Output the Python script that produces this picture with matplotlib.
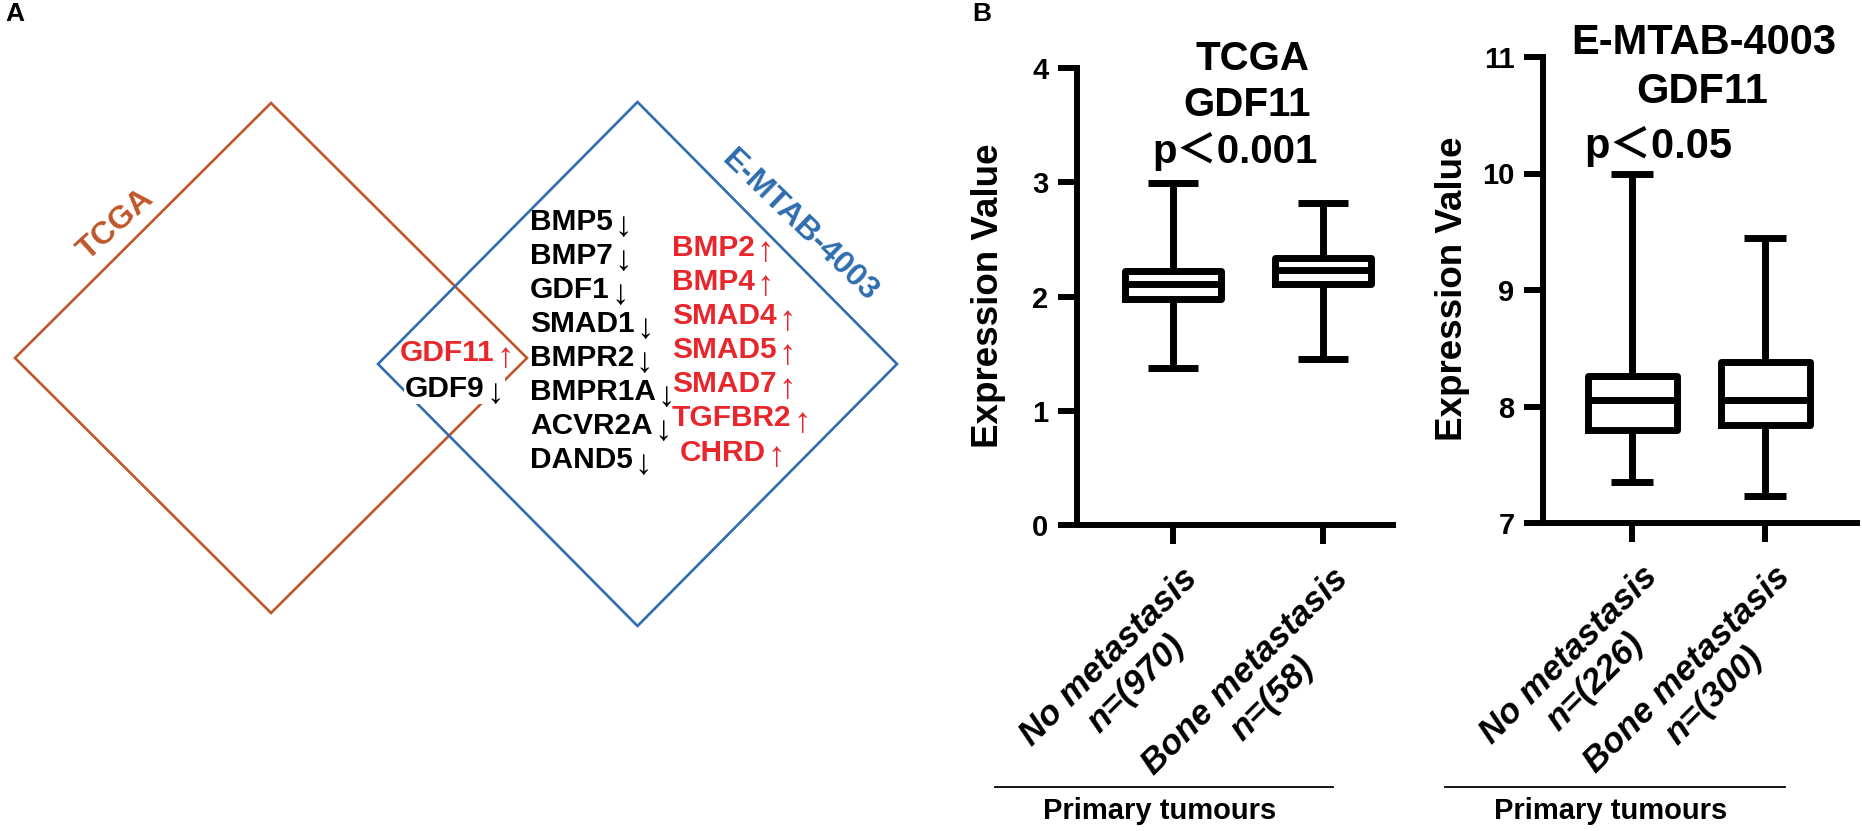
import matplotlib
matplotlib.use('Agg')
import matplotlib.pyplot as plt
from matplotlib.patches import Polygon
from matplotlib.transforms import ScaledTranslation

plt.rcParams['font.family'] = ['Liberation Sans', 'DejaVu Sans']

# ---------------- data ----------------
tcga_groups = ['No metastasis\nn=(970)', 'Bone metastasis\nn=(58)']
emtab_groups = ['No metastasis\nn=(226)', 'Bone metastasis\nn=(300)']

tcga_whislo = [1.37, 1.45]
tcga_q1 = [1.98, 2.11]
tcga_med = [2.11, 2.23]
tcga_q3 = [2.22, 2.34]
tcga_whishi = [2.99, 2.82]
tcga_yticks = [0, 1, 2, 3, 4]

emtab_whislo = [7.35, 7.23]
emtab_q1 = [7.80, 7.84]
emtab_med = [8.06, 8.06]
emtab_q3 = [8.26, 8.38]
emtab_whishi = [10.0, 9.45]
emtab_yticks = [7, 8, 9, 10, 11]

venn_sets = ['TCGA', 'E-MTAB-4003']
overlap_genes = ['GDF11', 'GDF9']
overlap_up = [True, False]
emtab_down_genes = ['BMP5', 'BMP7', 'GDF1', 'SMAD1', 'BMPR2', 'BMPR1A', 'ACVR2A', 'DAND5']
emtab_up_genes = ['BMP2', 'BMP4', 'SMAD4', 'SMAD5', 'SMAD7', 'TGFBR2', 'CHRD']

# ---------------- styling ----------------
W, H = 1862, 831
BROWN = '#C0562A'
BLUE = '#2F6DB0'
RED = '#E8262C'
LW_BOX = 5.0
LW_AX = 4.3

fig = plt.figure(figsize=(W / 100, H / 100), dpi=100)
fig.patch.set_facecolor('white')

# full-figure overlay axes in pixel units (for Venn panel and annotations)
axv = fig.add_axes([0, 0, 1, 1], zorder=0)
axv.set_xlim(0, W)
axv.set_ylim(H, 0)
axv.axis('off')

# ---------------- Panel A: Venn (diamonds) ----------------
diamond_cx = [271, 637.5]
diamond_cy = [358, 364]
diamond_hw = [256, 259.5]
diamond_hh = [255, 262]
diamond_col = [BROWN, BLUE]
for cx, cy, hw, hh, c in zip(diamond_cx, diamond_cy, diamond_hw, diamond_hh, diamond_col):
    axv.add_patch(Polygon([(cx, cy - hh), (cx + hw, cy), (cx, cy + hh), (cx - hw, cy)],
                          closed=True, fill=False, edgecolor=c, lw=1.9, zorder=1))

axv.text(116, 225, venn_sets[0], color=BROWN, fontsize=23, fontweight='bold',
         rotation=42, ha='center', va='center', rotation_mode='anchor', zorder=3)
axv.text(800, 226, venn_sets[1], color=BLUE, fontsize=23, fontweight='bold',
         rotation=-44, ha='center', va='center', rotation_mode='anchor', zorder=3)


def gene(x, y, name, up, color, box=False):
    bb = dict(facecolor='white', edgecolor='none', pad=1) if box else None
    t = axv.text(x, y, name, color=color, fontsize=21.5, fontweight='bold',
                 ha='left', va='center', zorder=4, bbox=bb)
    axv.annotate('↑' if up else '↓', xy=(1, 0.5), xycoords=t, xytext=(1, -3),
                 textcoords='offset points', ha='left', va='center', fontsize=25,
                 color=color, fontweight='normal', zorder=4, bbox=bb)


overlap_xy = [(400, 353), (405, 389)]
for (x, y), g, up in zip(overlap_xy, overlap_genes, overlap_up):
    gene(x, y, g, up, RED if up else 'black', box=not up)

for i, g in enumerate(emtab_down_genes):
    gene(530, 222.5 + 34 * i, g, False, 'black')
for i, g in enumerate(emtab_up_genes):
    gene(672 + (8 if g == 'CHRD' else 0), 247.5 + 34.2 * i, g, True, RED)

axv.text(15, 14, 'A', fontsize=19, fontweight='bold', ha='center', va='center')
axv.text(982, 14, 'B', fontsize=19, fontweight='bold', ha='center', va='center')


# ---------------- Panel B: box plots ----------------
def box_panel(rect, ylim, yticks, groups, whislo, q1, med, q3, whishi, xlim, width, capw):
    ax = fig.add_axes(rect, zorder=2)
    ax.patch.set_alpha(0)
    stats = [dict(med=m, q1=a, q3=b, whislo=lo, whishi=hi, fliers=[])
             for lo, a, m, b, hi in zip(whislo, q1, med, q3, whishi)]
    kw = dict(color='black', lw=LW_BOX, solid_capstyle='butt')
    ax.bxp(stats, positions=[0, 1], widths=width, capwidths=capw, showfliers=False,
           boxprops=dict(color='black', lw=LW_BOX), medianprops=dict(kw),
           whiskerprops=dict(kw), capprops=dict(kw))
    ax.set_xlim(xlim)
    ax.set_ylim(ylim)
    ax.spines[['top', 'right']].set_visible(False)
    for s in ['left', 'bottom']:
        ax.spines[s].set_linewidth(LW_AX)
    ax.tick_params(width=LW_AX, length=13.5, labelsize=21)
    ax.tick_params(axis='y', pad=7)
    ax.tick_params(axis='x', pad=13)
    ax.set_yticks(yticks)
    ax.set_yticklabels([str(v) for v in yticks], fontweight='bold')
    ax.set_xticks([0, 1])
    ax.set_xticklabels(groups, rotation=45, ha='right', va='top', rotation_mode='anchor',
                       fontsize=25, fontstyle='italic', fontweight='bold',
                       multialignment='center')
    off = ScaledTranslation(0.08, 0, fig.dpi_scale_trans)
    for lbl in ax.get_xticklabels():
        lbl.set_transform(lbl.get_transform() + off)
    return ax


box_panel([1077 / W, 1 - 525 / H, (1393 - 1077) / W, (525 - 68) / H], (0, 4), tcga_yticks,
          tcga_groups, tcga_whislo, tcga_q1, tcga_med, tcga_q3, tcga_whishi,
          (-0.64, 1.467), 0.64, 0.33)
box_panel([1543 / W, 1 - 523 / H, (1857 - 1543) / W, (523 - 57) / H], (7, 11), emtab_yticks,
          emtab_groups, emtab_whislo, emtab_q1, emtab_med, emtab_q3, emtab_whishi,
          (-0.67, 1.69), 0.67, 0.32)

# y labels
axv.text(988, 296, 'Expression Value', rotation=90, fontsize=26.5, fontweight='bold',
         ha='center', va='center')
axv.text(1453, 289, 'Expression Value', rotation=90, fontsize=26.5, fontweight='bold',
         ha='center', va='center')

# titles
tfam = ['Liberation Sans', 'Noto Sans CJK SC', 'DejaVu Sans']
axv.text(1252, 59, 'TCGA', fontsize=29, fontweight='bold', ha='center', va='center', family=tfam)
axv.text(1247, 105, 'GDF11', fontsize=29, fontweight='bold', ha='center', va='center', family=tfam)
axv.text(1235, 152, 'p＜0.001', fontsize=29, fontweight='bold', ha='center', va='center', family=tfam)
axv.text(1704, 43, 'E-MTAB-4003', fontsize=30, fontweight='bold', ha='center', va='center', family=tfam)
axv.text(1702, 92, 'GDF11', fontsize=30, fontweight='bold', ha='center', va='center', family=tfam)
axv.text(1658, 146, 'p＜0.05', fontsize=30, fontweight='bold', ha='center', va='center', family=tfam)

# group brackets
for x0, x1, xc in [(995, 1333, 1160), (1445, 1785, 1611)]:
    axv.plot([x0, x1], [787, 787], color='black', lw=1.3)
    axv.text(xc, 811, 'Primary tumours', fontsize=21, fontweight='bold', ha='center', va='center')

fig.savefig('out.png', dpi=100, facecolor='white')
